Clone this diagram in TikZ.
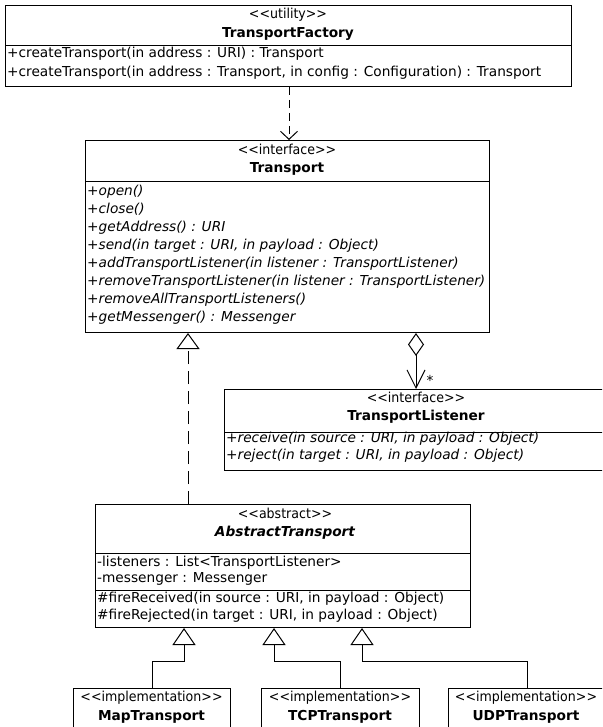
\documentclass[tikz,border=0pt]{standalone}
\usepackage{fontspec}
\usepackage{graphicx}
\newfontfamily\umlfont{DejaVu Sans}
\usetikzlibrary{arrows.meta,calc}
\newcommand\umlfs{\umlfont\fontsize{13.7}{16}\selectfont}
\newcommand\umlster[1]{\scalebox{0.92}[1]{#1}}
\begin{document}
\begin{tikzpicture}[x=1pt,y=-1pt,
  box/.style={draw, line width=1pt, inner sep=0pt, anchor=north west},
  sepline/.style={line width=1pt},
  ctr/.style={inner sep=0pt, anchor=mid, font=\umlfs},
  lft/.style={inner sep=0pt, anchor=mid west, font=\umlfs},
  opr/.style={inner sep=0pt, anchor=mid west, font=\umlfs\itshape},
  dep/.style={line width=1pt, dash pattern=on 8pt off 5pt, -{Straight Barb[length=8pt,width=17pt,line width=1pt]}},
  real/.style={line width=1pt, dash pattern=on 13pt off 7pt, -{Triangle[open,length=16pt,width=23pt,line width=1pt]}},
  gen/.style={line width=1pt, -{Triangle[open,length=17pt,width=23pt,line width=1pt]}},
  agg/.style={line width=1pt, {Diamond[open,length=23pt,width=16pt,line width=1pt]}-{Straight Barb[length=18pt,width=18pt,line width=1pt]}}
]
\useasboundingbox (0,0) rectangle (602,727);
\clip (0,0) rectangle (602,727);

% TransportFactory
\node[box, minimum width=566pt, minimum height=81pt] (factory) at (5,5) {};
\draw[sepline] ($(factory.north west)+(0,41)$) -- ($(factory.north east)+(0,41)$);
\node[ctr] (f1) at (288,16) {\umlster{<<utility>>}};
\node[ctr, font=\umlfs\bfseries] (f2) at (288,35) {TransportFactory};
\node[lft] (f3) at (7,55) {+createTransport(in address : URI) : Transport};
\node[lft] (f4) at (7,74) {+createTransport(in address : Transport, in config : Configuration) : Transport};

% Transport
\node[box, minimum width=404pt, minimum height=192pt] (transport) at (85,140) {};
\draw[sepline] ($(transport.north west)+(0,42)$) -- ($(transport.north east)+(0,42)$);
\node[ctr] (t1) at (287,152) {\umlster{<<interface>>}};
\node[ctr, font=\umlfs\bfseries] (t2) at (287,170) {Transport};
\node[opr] (t3) at (87,193) {+open()};
\node[opr] (t4) at (87,211.1) {+close()};
\node[opr] (t5) at (87,229.2) {+getAddress() : URI};
\node[opr] (t6) at (87,247.3) {+send(in target : URI, in payload : Object)};
\node[opr] (t7) at (87,265.4) {+addTransportListener(in listener : TransportListener)};
\node[opr] (t8) at (87,283.5) {+removeTransportListener(in listener : TransportListener)};
\node[opr] (t9) at (87,301.6) {+removeAllTransportListeners()};
\node[opr] (t10) at (87,319.7) {+getMessenger() : Messenger};

% TransportListener
\node[box, minimum width=384pt, minimum height=81pt] (listener) at (224,389) {};
\draw[sepline] ($(listener.north west)+(0,43)$) -- ($(listener.north east)+(0,43)$);
\node[ctr] (l1) at (416,400) {\umlster{<<interface>>}};
\node[ctr, font=\umlfs\bfseries] (l2) at (416,418) {TransportListener};
\node[opr] (l3) at (226,440) {+receive(in source : URI, in payload : Object)};
\node[opr] (l4) at (226,457) {+reject(in target : URI, in payload : Object)};

% AbstractTransport
\node[box, minimum width=375pt, minimum height=123pt] (abstract) at (95,504) {};
\draw[sepline] ($(abstract.north west)+(0,49)$) -- ($(abstract.north east)+(0,49)$);
\draw[sepline] ($(abstract.north west)+(0,86)$) -- ($(abstract.north east)+(0,86)$);
\node[ctr] (a1) at (285,516) {\umlster{<<abstract>>}};
\node[ctr, font=\umlfs\bfseries\itshape] (a2) at (285,534) {AbstractTransport};
\node[lft] (a3) at (97,564) {-listeners : List<TransportListener>};
\node[lft] (a4) at (97,580) {-messenger : Messenger};
\node[lft] (a5) at (97,600) {\#fireReceived(in source : URI, in payload : Object)};
\node[lft] (a6) at (97,617) {\#fireRejected(in target : URI, in payload : Object)};

% Implementations
\node[box, minimum width=157pt, minimum height=70pt] (map) at (73,688) {};
\node[ctr] (m1) at (151.5,699) {\umlster{<<implementation>>}};
\node[ctr, font=\umlfs\bfseries] (m2) at (151.5,718) {MapTransport};
\node[box, minimum width=158pt, minimum height=70pt] (tcp) at (261,688) {};
\node[ctr] (c1) at (340,699) {\umlster{<<implementation>>}};
\node[ctr, font=\umlfs\bfseries] (c2) at (340,718) {TCPTransport};
\node[box, minimum width=158pt, minimum height=70pt] (udp) at (448,688) {};
\node[ctr] (u1) at (526,699) {\umlster{<<implementation>>}};
\node[ctr, font=\umlfs\bfseries] (u2) at (526,718) {UDPTransport};

% Connectors
\coordinate (dx) at (289,0);
\draw[dep] (dx |- factory.south) -- (dx |- transport.north);
\coordinate (rx) at (188,0);
\draw[real] (rx |- abstract.north) -- (rx |- transport.south);
\coordinate (ax) at (416,0);
\draw[agg] (ax |- transport.south) -- (ax |- listener.north);
\node[inner sep=0pt, anchor=mid, font=\umlfs] (star) at (430,383) {*};
\coordinate (g1) at (184,0);
\coordinate (g2) at (274,0);
\coordinate (g3) at (362,0);
\draw[gen] (map.north) -- ++(0,-27) -| (g1 |- abstract.south);
\draw[gen] (tcp.north) -- ++(0,-27) -| (g2 |- abstract.south);
\draw[gen] (udp.north) -- ++(0,-27) -| (g3 |- abstract.south);
\end{tikzpicture}
\end{document}
